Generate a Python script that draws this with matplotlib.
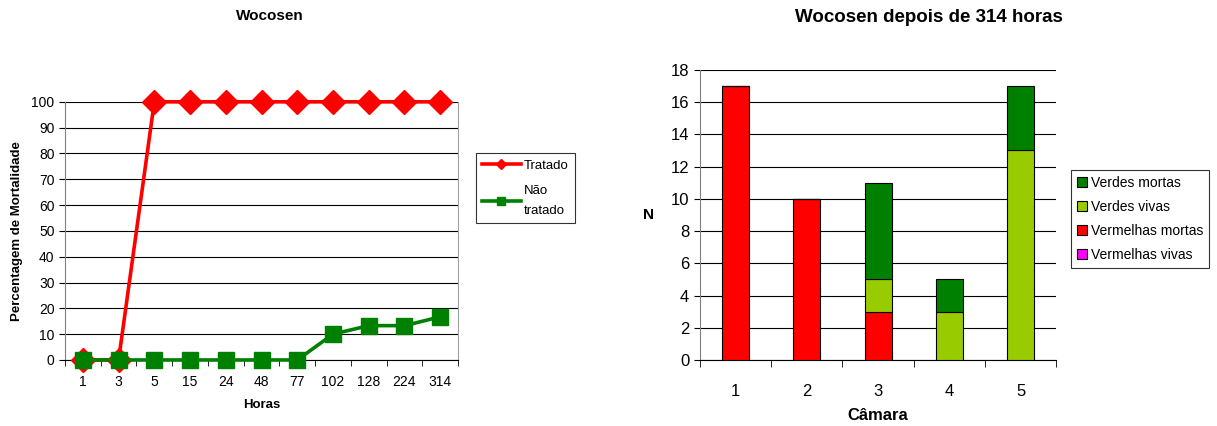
import numpy as np
import matplotlib.pyplot as plt
from matplotlib.ticker import FixedLocator

plt.rcParams['font.family'] = ['Liberation Sans', 'DejaVu Sans']

horas = ['1', '3', '5', '15', '24', '48', '77', '102', '128', '224', '314']
tratado = [0, 0, 100, 100, 100, 100, 100, 100, 100, 100, 100]
nao_tratado = [0, 0, 0, 0, 0, 0, 0, 10, 13.3, 13.3, 16.7]

camaras = ['1', '2', '3', '4', '5']
vermelhas_vivas = [0, 0, 0, 0, 0]
vermelhas_mortas = [17, 10, 3, 0, 0]
verdes_vivas = [0, 0, 2, 3, 13]
verdes_mortas = [0, 0, 6, 2, 4]

fig = plt.figure(figsize=(12.17, 4.26), dpi=100)

# ---- left: line chart
ax1 = fig.add_axes([0.0534, 0.155, 0.323, 0.606])
x = np.arange(len(horas))
ax1.plot(x, tratado, color='#ff0000', lw=2.6, marker='D', ms=12, label='Tratado',
         zorder=3, clip_on=False)
ax1.plot(x, nao_tratado, color='#008000', lw=2.6, marker='s', ms=11.5, label='Não\ntratado',
         zorder=4, clip_on=False)
ax1.set_xlim(-0.5, len(horas) - 0.5)
ax1.set_ylim(0, 100)
ax1.set_yticks(np.arange(0, 101, 10))
ax1.yaxis.grid(True, color='black', lw=0.8)
ax1.set_axisbelow(True)
ax1.set_xticks(x)
ax1.set_xticklabels(horas)
ax1.xaxis.set_minor_locator(FixedLocator(np.arange(-0.5, len(horas), 1)))
ax1.tick_params(axis='x', which='major', length=0, labelsize=10, pad=11)
ax1.tick_params(axis='x', which='minor', length=4, color='black')
ax1.tick_params(axis='y', labelsize=10, length=4)
ax1.spines['top'].set_visible(False)
ax1.spines['left'].set_color('#808080')
ax1.spines['right'].set_color('#a0a0a0')
ax1.spines['bottom'].set_color('black')
ax1.set_xlabel('Horas', fontsize=9.5, fontweight='bold', labelpad=7)
ax1.set_ylabel('Percentagem de Mortalidade', fontsize=9.5, fontweight='bold', labelpad=6)
fig.text(0.222, 0.962, 'Wocosen', ha='center', va='center', fontsize=11, fontweight='bold')
leg1 = ax1.legend(loc='upper left', bbox_to_anchor=(1.045, 0.8), fontsize=9.5, frameon=True,
                  fancybox=False, edgecolor='black', handlelength=3.0, labelspacing=1.0,
                  markerscale=0.45, borderpad=0.45, handletextpad=0.2, borderaxespad=0)
leg1.get_frame().set_linewidth(0.8)
for t in leg1.get_texts():
    t.set_linespacing(1.9)

# ---- right: stacked bars
ax2 = fig.add_axes([0.575, 0.155, 0.293, 0.681])
xb = np.arange(len(camaras))
w = 0.38
b = np.zeros(len(camaras))
series = [(vermelhas_vivas, '#ff00ff', 'Vermelhas vivas'),
          (vermelhas_mortas, '#ff0000', 'Vermelhas mortas'),
          (verdes_vivas, '#99cc00', 'Verdes vivas'),
          (verdes_mortas, '#008000', 'Verdes mortas')]
handles = []
for vals, col, lab in series:
    vals = np.array(vals, dtype=float)
    h = ax2.bar(xb, vals, w, bottom=b, color=col, edgecolor='black', lw=0.8, label=lab, zorder=3)
    handles.append(h)
    b += vals
ax2.set_xlim(-0.5, len(camaras) - 0.5)
ax2.set_ylim(0, 18)
ax2.set_yticks(np.arange(0, 19, 2))
ax2.yaxis.grid(True, color='black', lw=0.8)
ax2.set_axisbelow(True)
ax2.set_xticks(xb)
ax2.set_xticklabels(camaras)
ax2.xaxis.set_minor_locator(FixedLocator(np.arange(-0.5, len(camaras), 1)))
ax2.tick_params(axis='x', which='major', length=0, labelsize=12, pad=17)
ax2.tick_params(axis='x', which='minor', length=5, color='black')
ax2.tick_params(axis='y', labelsize=12, length=4)
ax2.spines['top'].set_visible(False)
ax2.spines['right'].set_visible(False)
ax2.spines['left'].set_color('#808080')
ax2.set_xlabel('Câmara', fontsize=12, fontweight='bold', labelpad=7)
ax2.set_ylabel('N', fontsize=11, fontweight='bold', rotation=0, labelpad=16, va='center')
fig.text(0.763, 0.96, 'Wocosen depois de 314 horas', ha='center', va='center', fontsize=13.5,
         fontweight='bold')
leg2 = ax2.legend(handles[::-1], [s[2] for s in series][::-1], loc='upper left',
                  bbox_to_anchor=(1.04, 0.655), fontsize=10, frameon=True, fancybox=False,
                  edgecolor='black', handlelength=0.7, handleheight=0.7, handletextpad=0.3,
                  labelspacing=0.72, borderpad=0.45, borderaxespad=0)
leg2.get_frame().set_linewidth(0.8)

fig.savefig('out.png', dpi=100)
